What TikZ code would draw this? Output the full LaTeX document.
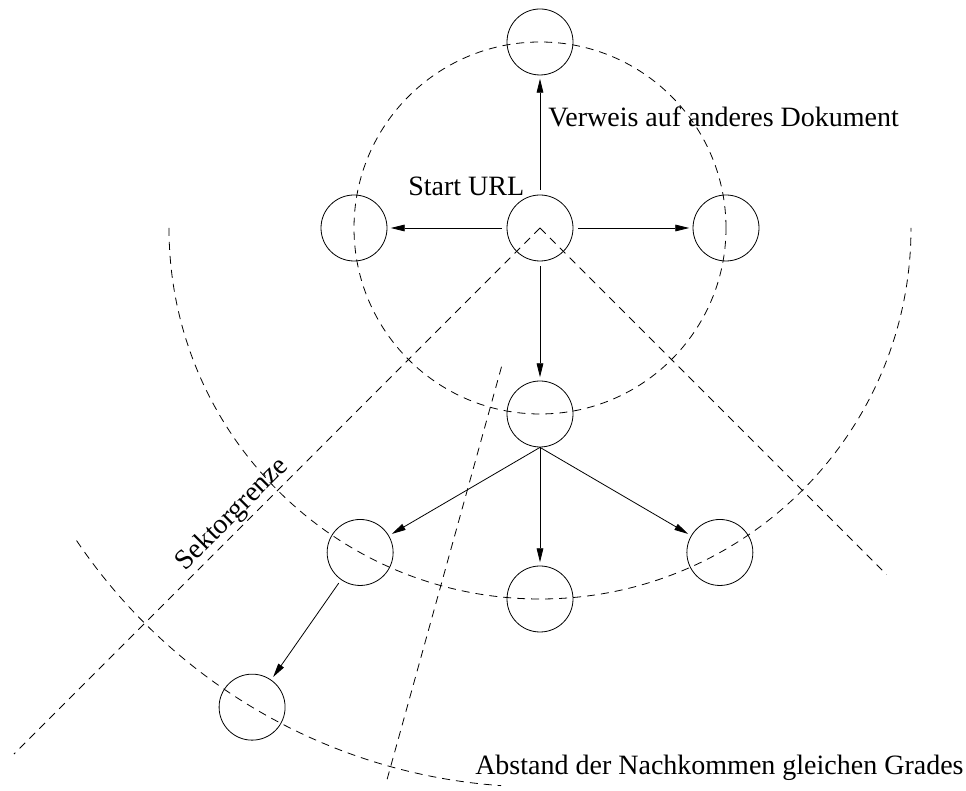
\documentclass[tikz,border=0pt]{standalone}
\usepackage{fontspec}
\setmainfont{Liberation Serif}
\usetikzlibrary{arrows.meta,calc}
\begin{document}
\begin{tikzpicture}[x=0.75pt,y=0.75pt,
  doc/.style={circle,draw,line width=0.6pt,minimum size=49.5pt,inner sep=0pt},
  link/.style={line width=0.6pt,-{Triangle[length=10.5pt,width=5pt]},shorten >=2.5pt},
  guide/.style={line width=0.6pt,dash pattern=on 6pt off 4.5pt},
  lbl/.style={inner sep=0pt,font=\fontsize{21}{25}\selectfont}]
\useasboundingbox (0,0) rectangle (966,791);
\coordinate (c) at (540,563);
% guides
\draw[guide] (c) circle[radius=186];
\draw[guide] ($(c)+(180:371)$) arc[start angle=180,end angle=360,radius=371];
\draw[guide] ($(c)+(214:559)$) arc[start angle=214,end angle=266,radius=559];
\draw[guide] (c) -- ($(c)+(225:744)$);
\draw[guide] (c) -- ($(c)+(315:490)$);
\draw[guide] ($(c)+(254.5:144)$) -- ($(c)+(254.5:578)$);
% documents
\node[doc] (start) at (c) {};
\node[doc] (top) at ($(c)+(90:186)$) {};
\node[doc] (left) at ($(c)+(180:186)$) {};
\node[doc] (right) at ($(c)+(0:186)$) {};
\node[doc] (mid) at ($(c)+(270:186)$) {};
\node[doc] (ll) at ($(c)+(241:371)$) {};
\node[doc] (lc) at ($(c)+(270:371)$) {};
\node[doc] (lr) at ($(c)+(299:371)$) {};
\node[doc] (bl) at ($(c)+(239:559)$) {};
% links
\draw[link,shorten <=3.75pt] (start) -- (top);
\draw[link,shorten <=3.75pt] (start) -- (left);
\draw[link,shorten <=3.75pt] (start) -- (right);
\draw[link,shorten <=3.75pt] (start) -- (mid);
\draw[link] (mid.south) -- (ll);
\draw[link] (mid.south) -- (lc);
\draw[link] (mid.south) -- (lr);
\draw[link,shorten <=3pt] (ll) -- (bl);
% labels
\node[lbl,anchor=base west] (tstart) at (408,595) {Start URL};
\node[lbl,anchor=base west] (tverw) at (548,664) {Verweis auf anderes Dokument};
\node[lbl,anchor=base west] (tabst) at (475,16) {Abstand der Nachkommen gleichen Grades};
\node[lbl,anchor=base,rotate=45] (tsek) at ($(c)+(225:420)+(135:8)$) {Sektorgrenze};
\end{tikzpicture}
\end{document}
